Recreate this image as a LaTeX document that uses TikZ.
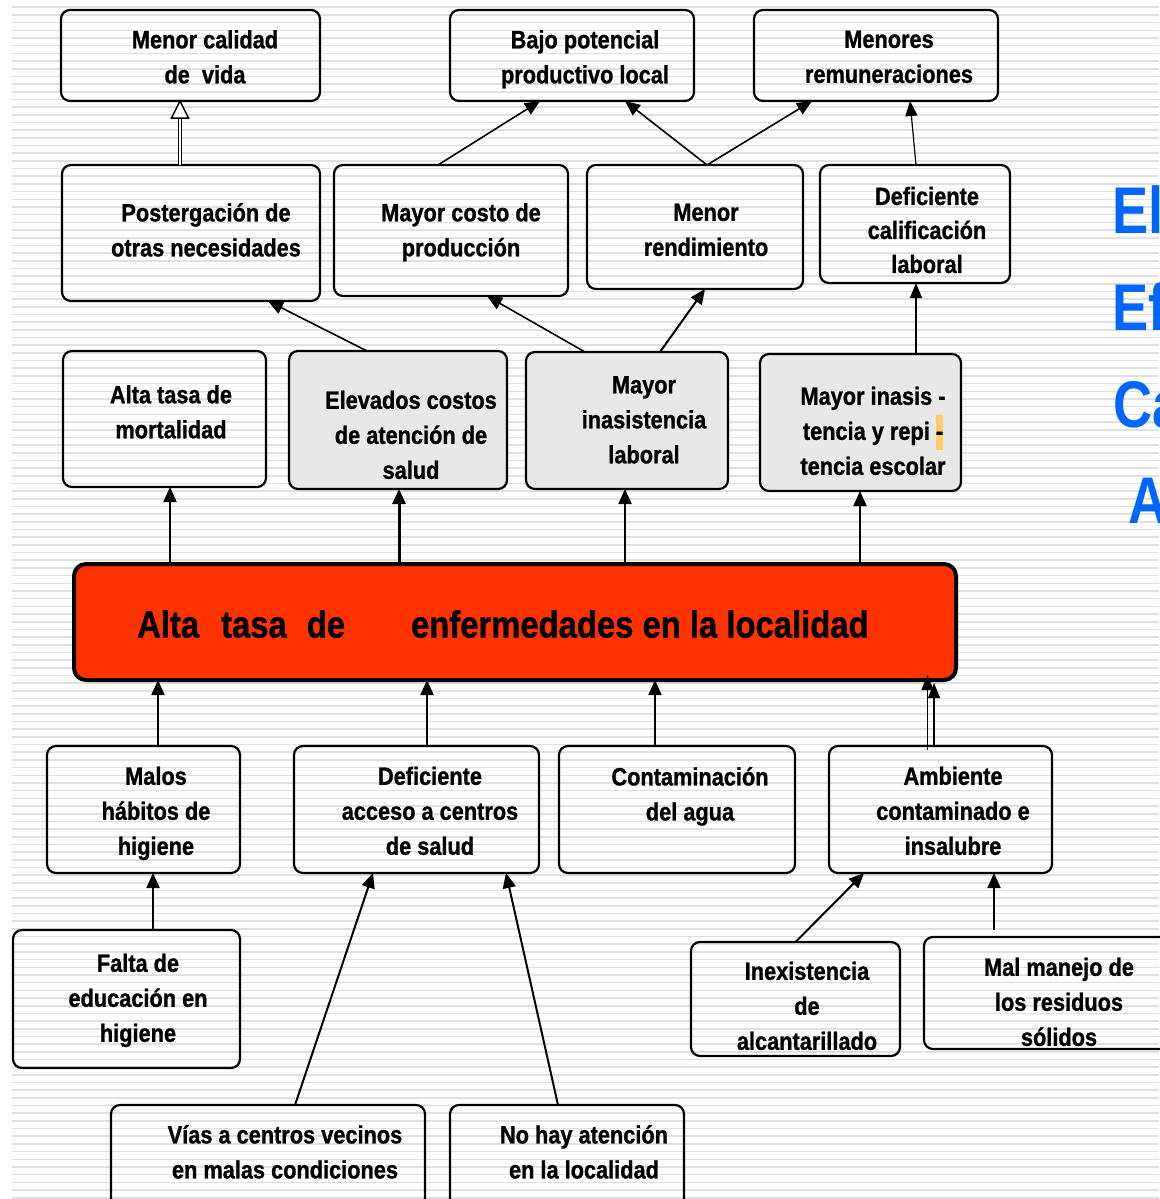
\documentclass[tikz,border=0pt]{standalone}
\usepackage{fontspec}
\setmainfont{Liberation Sans}[FakeStretch=0.87,BoldFeatures={FakeBold=1}]
\newfontfamily\bigfont{Liberation Sans}[FakeStretch=0.82]
\usetikzlibrary{arrows.meta}
\definecolor{stripe}{RGB}{224,224,224}
\definecolor{boxgray}{RGB}{232,232,232}
\definecolor{mainred}{RGB}{255,51,0}
\definecolor{titleblue}{RGB}{0,102,255}
\definecolor{hl}{RGB}{255,204,102}
\begin{document}
\begin{tikzpicture}[x=1pt,y=-1pt,
 box/.style={draw=black,line width=2.2pt,rounded corners=9pt,inner sep=0pt,outer sep=0pt},
 graybox/.style={box,fill=boxgray},
 mainbox/.style={box,line width=4pt,rounded corners=12pt,fill=mainred},
 lbl/.style={font=\fontsize{25}{35}\selectfont\bfseries,align=center,inner sep=0pt,
   execute at begin node=\strut,execute at end node=\strut},
 conn/.style={line width=2pt,-{Triangle[length=15pt,width=13pt]}},
 thickconn/.style={line width=3pt,-{Triangle[length=15pt,width=13pt]}},
 thinconn/.style={line width=1.2pt,-{Triangle[length=15pt,width=12pt]}},
 title/.style={font=\bigfont\fontsize{66}{66}\selectfont\bfseries,text=titleblue,anchor=base west,inner sep=0pt},
]
\useasboundingbox (0,0) rectangle (1159,1199);
\fill[white] (0,0) rectangle (1159,1199);
\foreach \i in {0,...,156} \fill[stripe] (12,{6.5+7.68*\i}) rectangle (1159,{8.1+7.68*\i});

% title letters (cut at right edge, as in the reference)
\node[title] (tEl) at (1112,233) {El};
\node[title] (tEf) at (1112,330) {Ef};
\node[title] (tCa) at (1113,427) {Ca};
\node[title] (tA) at (1128,523) {A};

% row 1
\node[box,minimum width=259pt,minimum height=91pt] (b1) at (190.5,55.5) {};
\node[box,minimum width=244pt,minimum height=91pt] (b2) at (572,55.5) {};
\node[box,minimum width=244pt,minimum height=91pt] (b3) at (876,55.5) {};
% row 2
\node[box,minimum width=258pt,minimum height=136pt] (c1) at (191,233) {};
\node[box,minimum width=234pt,minimum height=131pt] (c2) at (451,230.5) {};
\node[box,minimum width=216pt,minimum height=124pt] (c3) at (695,227) {};
\node[box,minimum width=190pt,minimum height=118pt] (c4) at (915,224) {};
% row 3
\node[box,minimum width=203pt,minimum height=136pt] (d1) at (164.5,419) {};
\node[graybox,minimum width=218pt,minimum height=138pt] (d2) at (398,420) {};
\node[graybox,minimum width=202pt,minimum height=137pt] (d3) at (627,420.5) {};
\node[graybox,minimum width=201pt,minimum height=137pt] (d4) at (860.5,422.5) {};
% main
\node[mainbox,minimum width=882pt,minimum height=116pt] (m) at (515,622) {};
% row 5
\node[box,minimum width=193pt,minimum height=127pt] (e1) at (143.5,809.5) {};
\node[box,minimum width=245pt,minimum height=127pt] (e2) at (416.5,809.5) {};
\node[box,minimum width=236pt,minimum height=127pt] (e3) at (677,809.5) {};
\node[box,minimum width=223pt,minimum height=127pt] (e4) at (940.5,809.5) {};
% row 6
\node[box,minimum width=227pt,minimum height=138pt] (f1) at (126.5,999) {};
\node[box,minimum width=209pt,minimum height=114pt] (f2) at (795.5,999) {};
\node[box,minimum width=246pt,minimum height=112pt] (f3) at (1047,993) {};
% row 7
\node[box,minimum width=314pt,minimum height=110pt] (g1) at (268,1160) {};
\node[box,minimum width=234pt,minimum height=110pt] (g2) at (567,1160) {};

% labels
\node[lbl] (lb1) at (205,62) {Menor calidad\\de\ \ vida};
\node[lbl] (lb2) at (585,62) {Bajo potencial\\productivo local};
\node[lbl] (lb3) at (889,62) {Menores\\remuneraciones};
\node[lbl] (lc1) at (206,235) {Postergación de\\otras necesidades};
\node[lbl] (lc2) at (461,235) {Mayor costo de\\producción};
\node[lbl] (lc3) at (706,235) {Menor\\rendimiento};
\node[lbl,font=\fontsize{25}{34}\selectfont\bfseries] (lc4) at (927,235) {Deficiente\\calificación\\laboral};
\node[lbl] (ld1) at (171,417) {Alta tasa de\\mortalidad};
\node[lbl] (ld2) at (411,440) {Elevados costos\\de atención de\\salud};
\node[lbl] (ld3) at (644,425) {Mayor\\inasistencia\\laboral};
\node[lbl] (ld4) at (873,436) {Mayor inasis -\\tencia y repi {\setlength{\fboxsep}{0pt}\colorbox{hl}{\strut -}}\\tencia escolar};
\node[font=\fontsize{37.7}{40}\selectfont\bfseries,anchor=base west,inner sep=0pt] (lm) at (137,637.5) {Alta\hspace{22pt}tasa\hspace{20pt}de\hspace{66pt}enfermedades en la localidad};
\node[lbl] (le1) at (156,816) {Malos\\hábitos de\\higiene};
\node[lbl] (le2) at (430,816) {Deficiente\\acceso a centros\\de salud};
\node[lbl] (le3) at (690,799) {Contaminación\\del agua};
\node[lbl] (le4) at (953,816) {Ambiente\\contaminado e\\insalubre};
\node[lbl] (lf1) at (138,1003) {Falta de\\educación en\\higiene};
\node[lbl] (lf2) at (807,1011) {Inexistencia\\de\\alcantarillado};
\node[lbl] (lf3) at (1059,1007) {Mal manejo de\\los residuos\\sólidos};
\node[lbl] (lg1) at (285,1157) {Vías a centros vecinos\\en malas condiciones};
\node[lbl] (lg2) at (584,1157) {No hay atención\\en la localidad};

% connectors: row2 -> row1
\draw[line width=1pt,double distance=2.5pt] ([xshift=-11pt]c1.north) -- ([xshift=-10.5pt,yshift=-17pt]b1.south);
\draw[line width=1.5pt,fill=white] ([xshift=-10.5pt]b1.south) -- ++(-8.5,17) -- ++(17,0) -- cycle;
\draw[conn,line width=1.6pt] ([xshift=-13pt]c2.north) -- ([xshift=-32pt]b2.south);
\draw[conn,line width=1.6pt] ([xshift=12pt]c3.north) -- ([xshift=53pt]b2.south);
\draw[conn,line width=1.6pt] ([xshift=12pt]c3.north) -- ([xshift=-64pt]b3.south);
\draw[thinconn] ([xshift=1pt]c4.north) -- ([xshift=34pt]b3.south);
% row3 -> row2
\draw[conn,line width=1.6pt] ([xshift=-31pt]d2.north) -- ([xshift=77pt]c1.south);
\draw[conn,line width=1.6pt] ([xshift=-42pt]d3.north) -- ([xshift=36pt]c2.south);
\draw[conn] ([xshift=33pt]d3.north) -- ([xshift=10pt]c3.south);
\draw[thinconn] ([xshift=55.5pt]d4.north) -- ([xshift=1pt]c4.south);
% main -> row3
\draw[conn] ([xshift=-345pt]m.north) -- ([xshift=5.5pt]d1.south);
\draw[thickconn] ([xshift=-116pt]m.north) -- ([xshift=1pt]d2.south);
\draw[conn] ([xshift=110pt]m.north) -- ([xshift=-2pt]d3.south);
\draw[conn] ([xshift=345pt]m.north) -- ([xshift=-0.5pt]d4.south);
% row5 -> main
\draw[conn] ([xshift=14.5pt]e1.north) -- ([xshift=-357pt]m.south);
\draw[conn] ([xshift=10.5pt]e2.north) -- ([xshift=-88pt]m.south);
\draw[conn] ([xshift=-22pt]e3.north) -- ([xshift=140pt]m.south);
\draw[thinconn] ([xshift=-13pt,yshift=-4pt]e4.north) -- ([xshift=412.5pt,yshift=5pt]m.south);
\draw[thinconn] ([xshift=-6.5pt,yshift=1pt]e4.north) -- ([xshift=419pt,yshift=-3pt]m.south);
% row6/7 -> row5
\draw[conn] ([xshift=26.5pt]f1.north) -- ([xshift=9.5pt]e1.south);
\draw[conn] ([xshift=27pt]g1.north) -- ([xshift=-43.5pt]e2.south);
\draw[conn] ([xshift=-9pt]g2.north) -- ([xshift=89.5pt]e2.south);
\draw[conn] ([xshift=0pt]f2.north) -- ([xshift=-76.5pt]e4.south);
\draw[conn] ([xshift=-53pt,yshift=7pt]f3.north) -- ([xshift=53.5pt]e4.south);
\end{tikzpicture}
\end{document}
